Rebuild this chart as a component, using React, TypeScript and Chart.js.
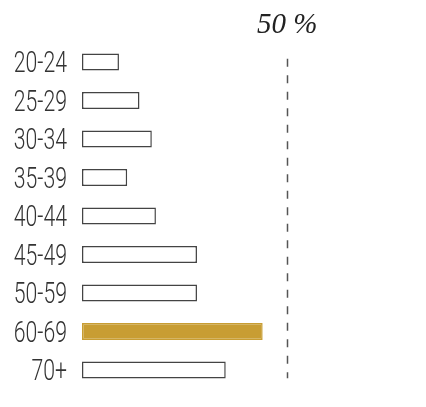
import React, { useEffect, useRef } from "react";
import { Chart, registerables } from "chart.js";

Chart.register(...registerables);

const categories = ["20-24", "25-29", "30-34", "35-39", "40-44", "45-49", "50-59", "60-69", "70+"];
const values = [9, 14, 17, 11, 18, 28, 28, 44, 35];
const highlightIndex = 7;
const referenceValue = 50;
const referenceLabel = "50 %";

const LABEL_FONT_SIZE = 29.5;
const LABEL_SCALE_X = 0.72;

// y-axis category labels, drawn condensed at the scale's tick positions
const condensedLabelsPlugin = {
  id: "condensedLabels",
  afterDraw(chart: any) {
    const { ctx, scales } = chart;
    const y = scales.y;
    const right = y.right - 15;
    ctx.save();
    ctx.fillStyle = "#333";
    ctx.font = `300 ${LABEL_FONT_SIZE}px Roboto, 'DejaVu Sans', sans-serif`;
    ctx.textAlign = "right";
    ctx.textBaseline = "alphabetic";
    const cap = LABEL_FONT_SIZE * 0.711;
    y.ticks.forEach((t: any, i: number) => {
      const label = y.getLabelForValue(t.value);
      const py = y.getPixelForTick(i);
      ctx.save();
      ctx.translate(right, py + cap / 2);
      ctx.scale(LABEL_SCALE_X, 1);
      ctx.fillText(label, 0, 0);
      ctx.restore();
    });
    ctx.restore();
  },
};

const refLinePlugin = {
  id: "refLine",
  afterDatasetsDraw(chart: any) {
    const { ctx, chartArea, scales } = chart;
    const x = Math.round(scales.x.getPixelForValue(referenceValue)) + 0.5;
    ctx.save();
    ctx.strokeStyle = "#555";
    ctx.lineWidth = 1.5;
    ctx.setLineDash([8, 8.5]);
    ctx.beginPath();
    ctx.moveTo(x, chartArea.top + 16);
    ctx.lineTo(x, chartArea.bottom - 11);
    ctx.stroke();
    ctx.restore();
  },
};

export default function App() {
  const ref = useRef<HTMLCanvasElement>(null);
  useEffect(() => {
    const chart = new Chart(ref.current!, {
      type: "bar",
      data: {
        labels: categories,
        datasets: [
          {
            data: values,
            backgroundColor: values.map((_, i) => (i === highlightIndex ? "#c89d33" : "#ffffff")),
            borderColor: values.map((_, i) => (i === highlightIndex ? "#c89d33" : "#444444")),
            borderWidth: 1.5,
            borderSkipped: false,
            barPercentage: 0.44,
            categoryPercentage: 1,
          },
        ],
      },
      options: {
        indexAxis: "y",
        animation: false,
        responsive: false,
        maintainAspectRatio: false,
        layout: { padding: { top: 0, bottom: 17.75, left: 0, right: 15.5 } },
        plugins: { legend: { display: false }, tooltip: { enabled: false } },
        scales: {
          x: {
            position: "top",
            min: 0,
            max: 80,
            grid: { display: false },
            border: { display: false },
            afterBuildTicks: (scale: any) => {
              scale.ticks = [{ value: referenceValue }];
            },
            afterFit: (scale: any) => {
              scale.height = 42.75;
              scale.paddingLeft = 0;
              scale.paddingRight = 0;
            },
            ticks: {
              callback: () => referenceLabel,
              padding: -8,
              maxRotation: 0,
              color: "#222",
              font: { family: "'Liberation Serif', 'DejaVu Serif', serif", style: "italic", size: 29 },
            },
          },
          y: {
            grid: { display: false },
            border: { display: false },
            afterFit: (scale: any) => {
              scale.width = 82;
              scale.paddingTop = 0;
              scale.paddingBottom = 0;
            },
            ticks: { display: false },
          },
        },
      },
      plugins: [refLinePlugin, condensedLabelsPlugin],
    });
    return () => chart.destroy();
  }, []);
  return (
    <div style={{ position: "fixed", left: 0, top: 0, width: 426, height: 407, background: "#fff" }}>
      <canvas ref={ref} width={426} height={407} style={{ width: 426, height: 407 }} />
    </div>
  );
}
